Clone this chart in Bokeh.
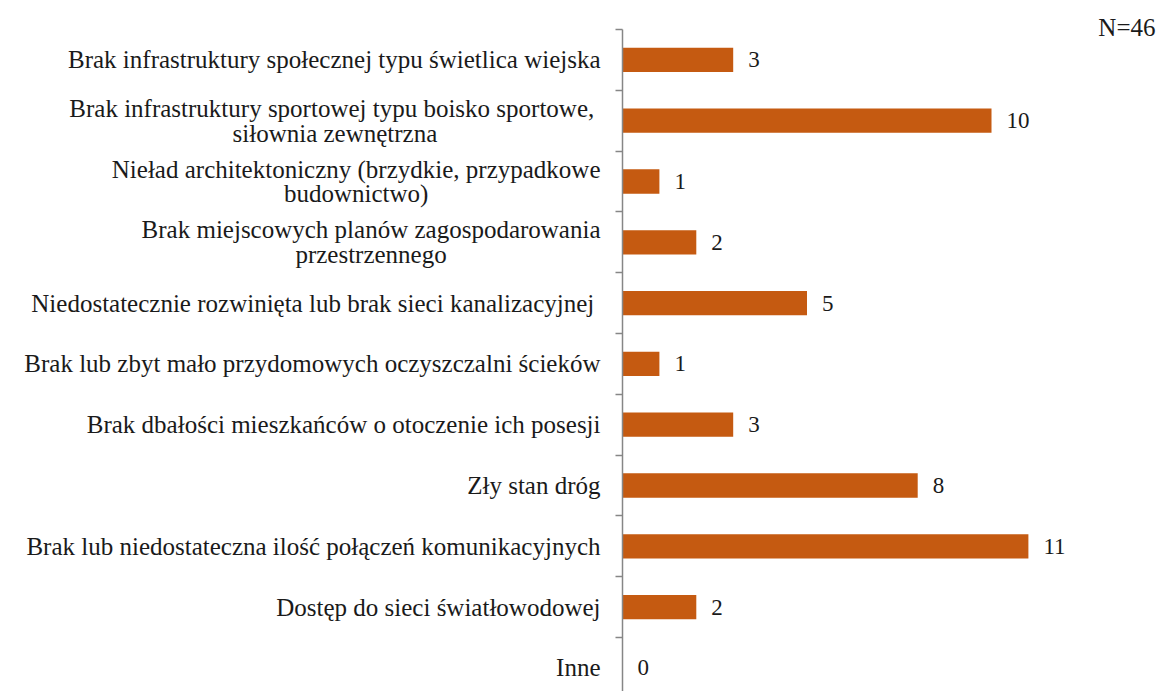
from bokeh.plotting import figure
from bokeh.models import ColumnDataSource, Range1d, FixedTicker, Label
from bokeh.core.properties import value
from bokeh.embed import file_html
from bokeh.resources import INLINE

categories = [
    "Brak infrastruktury społecznej typu świetlica wiejska",
    "Brak infrastruktury sportowej typu  boisko sportowe,\nsiłownia zewnętrzna",
    "Nieład architektoniczny (brzydkie, przypadkowe\nbudownictwo)",
    "Brak miejscowych planów zagospodarowania\nprzestrzennego",
    "Niedostatecznie rozwinięta lub brak sieci kanalizacyjnej ",
    "Brak lub zbyt mało przydomowych oczyszczalni ścieków",
    "Brak dbałości mieszkańców o otoczenie ich posesji",
    "Zły stan dróg",
    "Brak lub niedostateczna ilość połączeń komunikacyjnych",
    "Dostęp do sieci światłowodowej",
    "Inne",
]
values = [3, 10, 1, 2, 5, 1, 3, 8, 11, 2, 0]
note = "N=46"

FONT = "'Liberation Serif', serif"
n = len(categories)
pos = [n - 1 - i for i in range(n)]
src = ColumnDataSource(dict(y=pos, v=values, cat=categories,
                            lab=[str(v) for v in values], zero=[0] * n))

W, H = 1158, 691
AX_X = 622      # pixel position of the value axis
UNIT = 36.9     # pixels per unit
BAND = 60.8     # pixels per category
TOP = 29        # pixel of the top tick

p = figure(width=W, height=H, output_backend="svg", toolbar_location=None,
           x_range=Range1d(-AX_X / UNIT, (W - AX_X) / UNIT),
           y_range=Range1d(n - 0.5 - (H - TOP) / BAND, n - 0.5 + TOP / BAND),
           min_border=0, outline_line_color=None)
p.xaxis.visible = False
p.xgrid.visible = False
p.ygrid.visible = False

ticks = [i + 0.5 for i in range(n)]
p.yaxis.fixed_location = 0
p.yaxis.bounds = (n - 0.5 - (H - TOP) / BAND, n - 0.5)
p.yaxis.ticker = FixedTicker(ticks=ticks)
p.yaxis.major_label_overrides = {t: "" for t in ticks}
p.yaxis.axis_line_color = "#868686"
p.yaxis.major_tick_line_color = "#868686"
p.yaxis.axis_line_width = 1.5
p.yaxis.major_tick_line_width = 1.5
p.yaxis.major_tick_out = 7
p.yaxis.major_tick_in = 0
p.yaxis.minor_tick_line_color = None

p.hbar(y="y", left=0, right="v", height=0.4, source=src,
       fill_color="#C55A11", line_color=None)

p.text(x="v", y="y", text="lab", source=src, x_offset=15,
       text_align="left", text_baseline="middle",
       text_font=value(FONT), text_font_size="23px", text_color="#1a1a1a")

p.text(x="zero", y="y", text="cat", source=src, x_offset=-22,
       text_align="center", anchor="center_right", text_baseline="middle",
       text_font=value(FONT), text_font_size="25px", text_color="#1a1a1a",
       text_line_height=0.92)

p.add_layout(Label(x=W - 3, y=H - 27, x_units="screen", y_units="screen", text=note,
                   text_align="right", text_baseline="middle",
                   text_font=FONT, text_font_size="25px", text_color="#1a1a1a"))

open("out.html", "w").write(file_html(p, INLINE))
